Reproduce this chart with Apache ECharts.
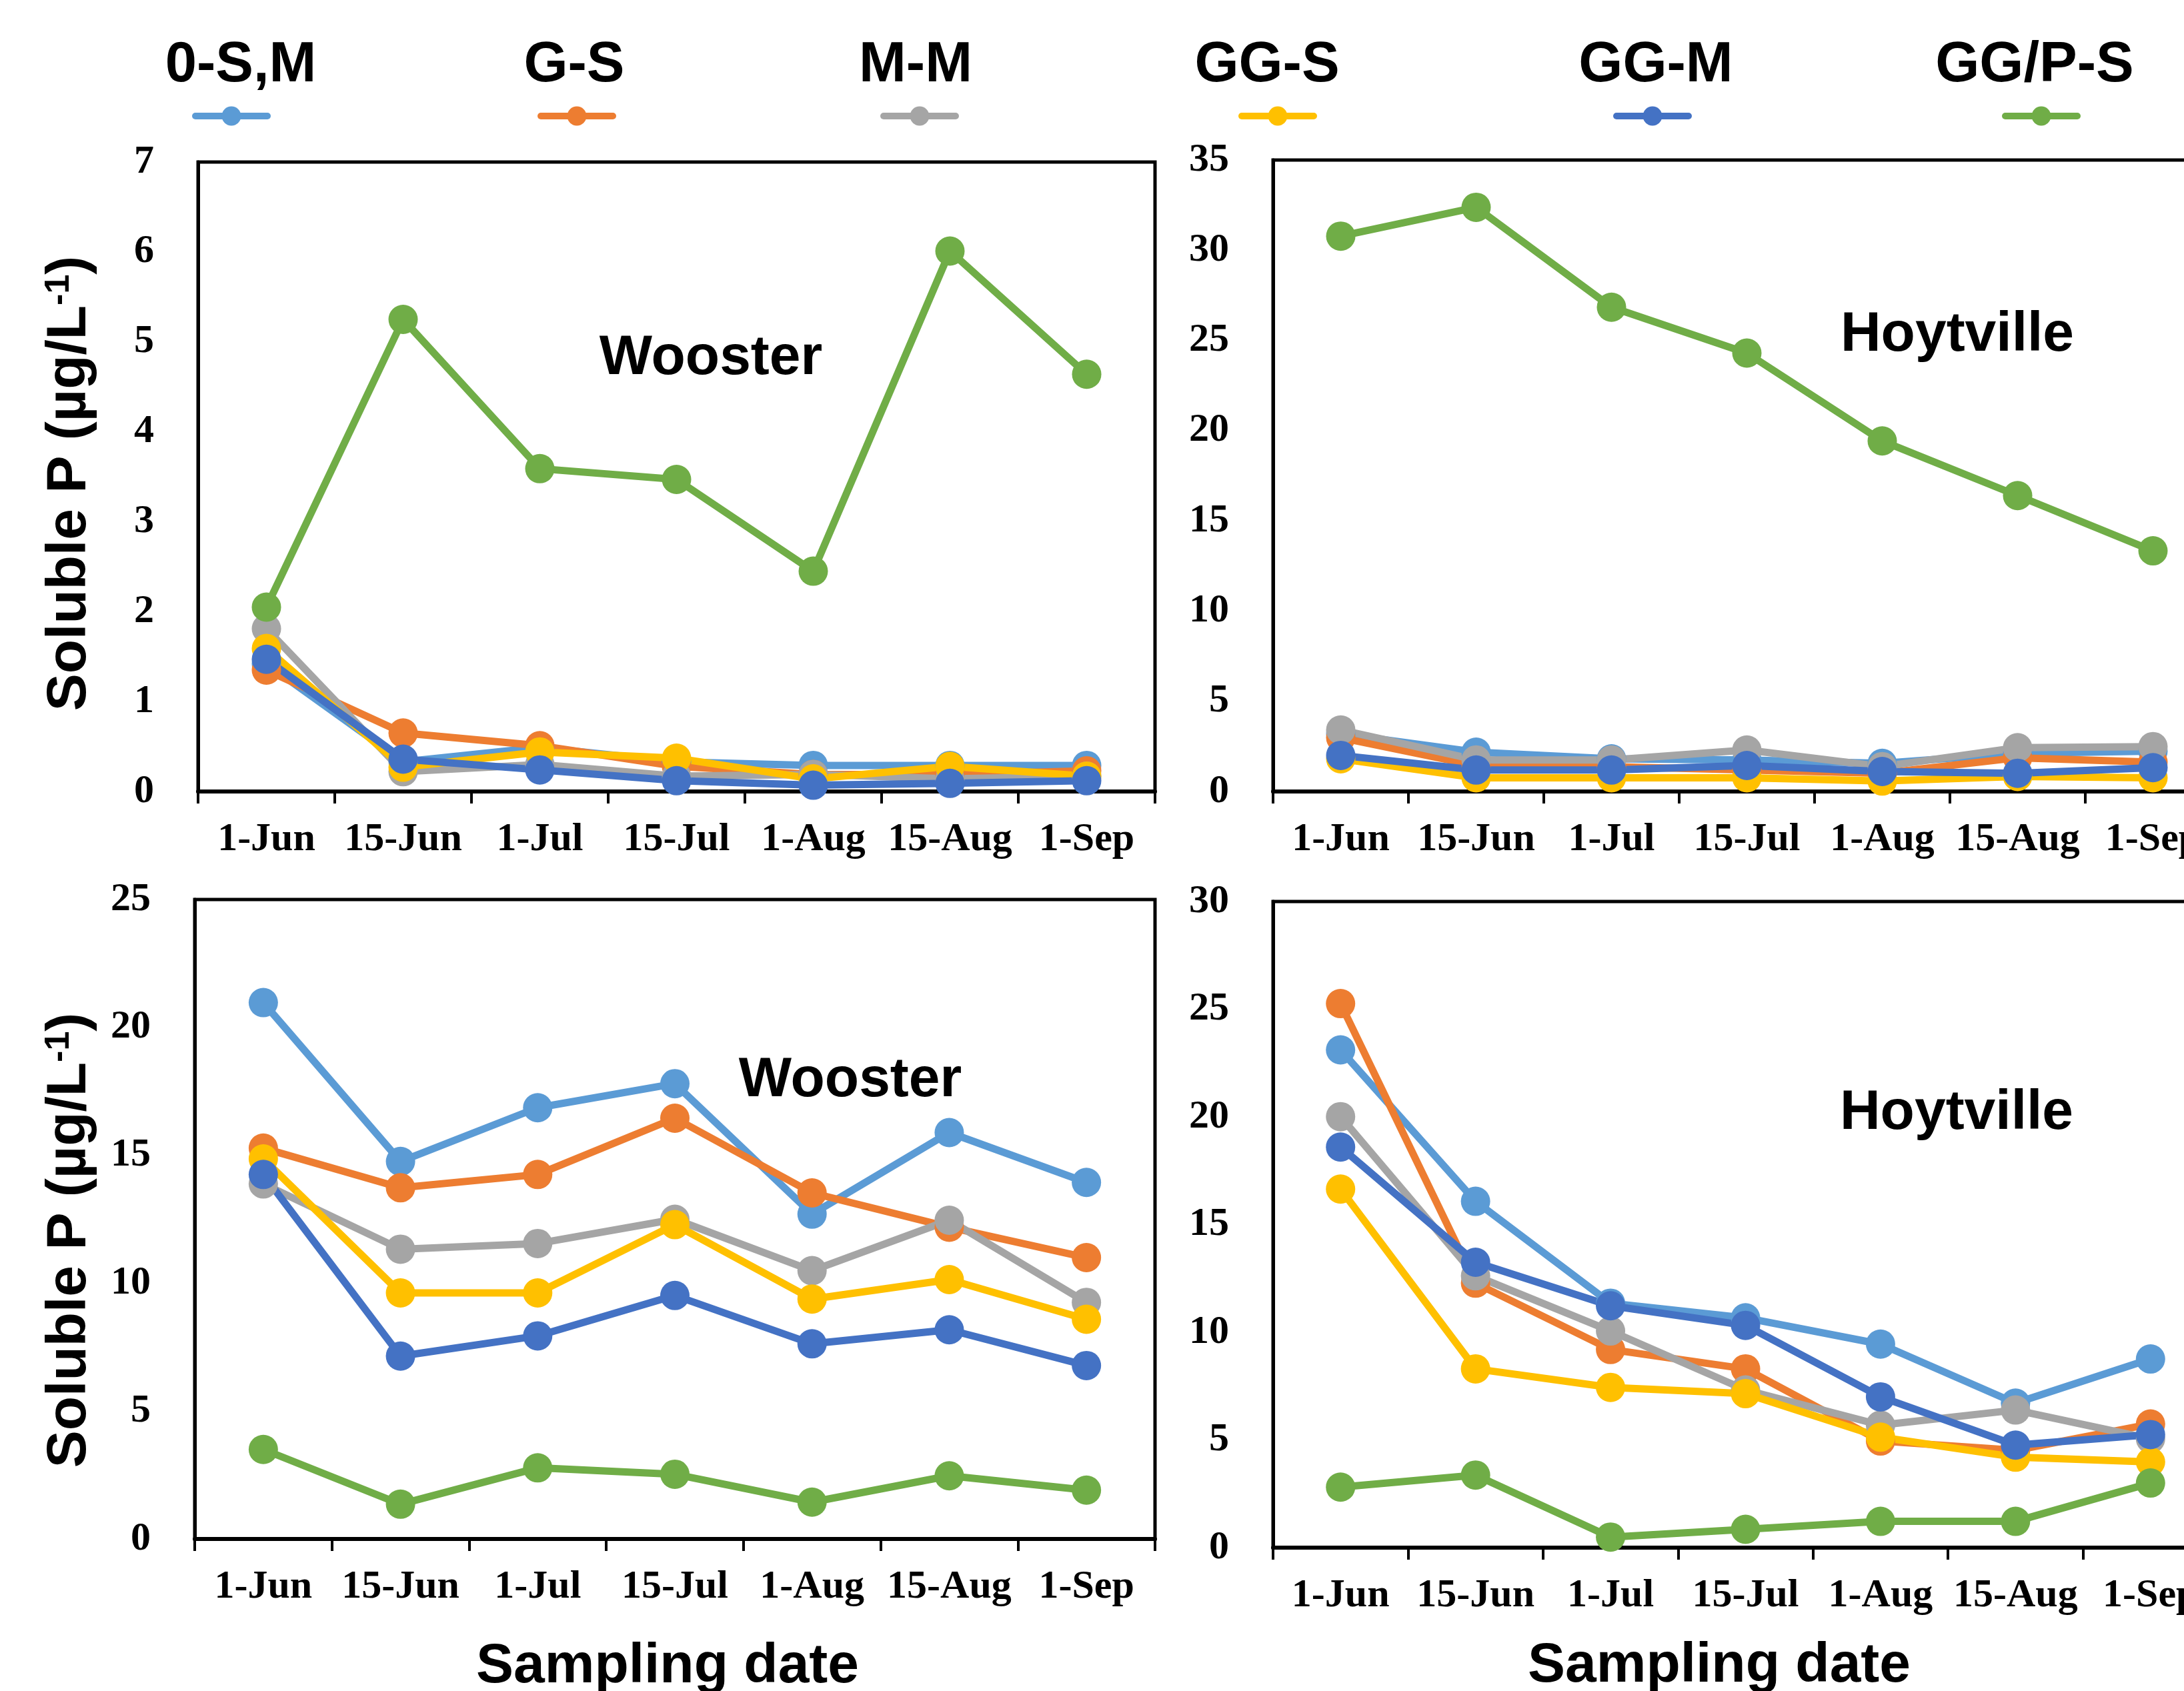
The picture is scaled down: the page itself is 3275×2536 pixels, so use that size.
<!DOCTYPE html>
<html>
<head>
<meta charset="utf-8">
<script src="https://cdn.jsdelivr.net/npm/echarts@6/dist/echarts.min.js"></script>
<style>html,body{margin:0;padding:0;background:#fff}#c{width:3275px;height:2536px}</style>
</head>
<body>
<div id="c"></div>
<script>
// ---- data ----
const dates = ['1-Jun', '15-Jun', '1-Jul', '15-Jul', '1-Aug', '15-Aug', '1-Sep'];
const seriesNames = ['0-S,M', 'G-S', 'M-M', 'GG-S', 'GG-M', 'GG/P-S'];
const siteNames = ['Wooster', 'Hoytville', 'Wooster', 'Hoytville'];
const yTitle = 'Soluble P (µg/L';
const yTitleSup = '-1';
const xTitle = 'Sampling date';

// top-left: Wooster
const wooA_0SM  = [1.42, 0.33, 0.49, 0.33, 0.29, 0.29, 0.29];
const wooA_GS   = [1.35, 0.65, 0.51, 0.28, 0.19, 0.19, 0.23];
const wooA_MM   = [1.81, 0.22, 0.30, 0.17, 0.19, 0.14, 0.17];
const wooA_GGS  = [1.59, 0.27, 0.44, 0.37, 0.14, 0.28, 0.17];
const wooA_GGM  = [1.47, 0.36, 0.24, 0.12, 0.07, 0.09, 0.12];
const wooA_GGPS = [2.05, 5.25, 3.59, 3.47, 2.45, 6.01, 4.64];

// top-right: Hoytville
const hoyA_0SM  = [3.20, 2.18, 1.81, 1.75, 1.56, 2.12, 2.24];
const hoyA_GS   = [2.98, 1.44, 1.38, 1.19, 1.01, 1.87, 1.63];
const hoyA_MM   = [3.41, 1.75, 1.75, 2.30, 1.38, 2.43, 2.49];
const hoyA_GGS  = [1.81, 0.76, 0.76, 0.76, 0.58, 0.83, 0.76];
const hoyA_GGM  = [2.00, 1.19, 1.19, 1.44, 1.11, 1.01, 1.32];
const hoyA_GGPS = [30.78, 32.38, 26.84, 24.30, 19.43, 16.40, 13.34];

// bottom-left: Wooster
const wooB_0SM  = [20.97, 14.76, 16.86, 17.80, 12.70, 15.89, 13.94];
const wooB_GS   = [15.28, 13.73, 14.25, 16.45, 13.53, 12.19, 11.00];
const wooB_MM   = [13.88, 11.33, 11.55, 12.50, 10.49, 12.46, 9.25];
const wooB_GGS  = [14.86, 9.62, 9.62, 12.29, 9.38, 10.14, 8.59];
const wooB_GGM  = [14.25, 7.15, 7.94, 9.52, 7.63, 8.18, 6.78];
const wooB_GGPS = [3.50, 1.36, 2.78, 2.53, 1.44, 2.47, 1.91];

// bottom-right: Hoytville
const hoyB_0SM  = [23.11, 16.08, 11.35, 10.67, 9.45, 6.71, 8.76];
const hoyB_GS   = [25.26, 12.28, 9.20, 8.30, 4.95, 4.52, 5.74];
const hoyB_MM   = [20.01, 12.62, 10.06, 7.32, 5.69, 6.39, 5.05];
const hoyB_GGS  = [16.65, 8.30, 7.44, 7.15, 5.13, 4.20, 3.98];
const hoyB_GGM  = [18.60, 13.25, 11.23, 10.32, 7.00, 4.76, 5.25];
const hoyB_GGPS = [2.81, 3.37, 0.49, 0.85, 1.22, 1.22, 3.00];

const yMax = [7, 35, 25, 30];
const yStep = [1, 5, 5, 5];

// ---- styling / layout ----
const panelData = [
  [wooA_0SM, wooA_GS, wooA_MM, wooA_GGS, wooA_GGM, wooA_GGPS],
  [hoyA_0SM, hoyA_GS, hoyA_MM, hoyA_GGS, hoyA_GGM, hoyA_GGPS],
  [wooB_0SM, wooB_GS, wooB_MM, wooB_GGS, wooB_GGM, wooB_GGPS],
  [hoyB_0SM, hoyB_GS, hoyB_MM, hoyB_GGS, hoyB_GGM, hoyB_GGPS]
];
const colors = ['#5B9BD5', '#ED7D31', '#A5A5A5', '#FFC000', '#4472C4', '#70AD47'];
const grids = [
  {left: 297, top: 243, width: 1435, height: 944},
  {left: 1909, top: 240, width: 1421, height: 947},
  {left: 292, top: 1349, width: 1440, height: 959},
  {left: 1909, top: 1352, width: 1417, height: 969}
];
const SANS = "'Liberation Sans', Arial, sans-serif";
const SERIF = "'Liberation Serif', 'Times New Roman', serif";
const tickFont = {fontFamily: SERIF, fontWeight: 'bold', fontSize: 60, color: '#000'};

const legendIconX = [342, 860, 1374, 1911, 2473, 3056];
const legendTextX = [361, 861, 1373, 1900, 2483, 3051];
const siteTextPos = [[1066, 538], [2935, 503], [1275, 1621], [2934, 1670]];
const xTitlePos = [[1001, 2500], [2578, 2499]];
const yTitlePos = [[105, 725], [105, 1860]];

const series = [];
panelData.forEach((arrs, p) => {
  arrs.forEach((vals, s) => {
    series.push({
      type: 'line', name: seriesNames[s],
      xAxisIndex: p, yAxisIndex: p,
      data: vals,
      symbol: 'circle', symbolSize: 44,
      lineStyle: {width: 11, color: colors[s]},
      itemStyle: {color: colors[s]},
      emphasis: {disabled: true}
    });
  });
});

const graphics = [];
seriesNames.forEach((n, i) => {
  graphics.push({type: 'text', x: legendTextX[i], y: 99,
    style: {text: n, fontFamily: SANS, fontWeight: 'bold', fontSize: 85, fill: '#000', align: 'center', verticalAlign: 'middle'}});
});
siteNames.forEach((n, i) => {
  graphics.push({type: 'text', x: siteTextPos[i][0], y: siteTextPos[i][1],
    style: {text: n, fontFamily: SANS, fontWeight: 'bold', fontSize: 84, fill: '#000', align: 'center', verticalAlign: 'middle'}});
});
xTitlePos.forEach(pos => {
  graphics.push({type: 'text', x: pos[0], y: pos[1],
    style: {text: xTitle, fontFamily: SANS, fontWeight: 'bold', fontSize: 84, fill: '#000', align: 'center', verticalAlign: 'middle'}});
});
yTitlePos.forEach(pos => {
  graphics.push({type: 'text', x: pos[0], y: pos[1], rotation: Math.PI / 2,
    style: {
      text: '{a|' + yTitle + '}{b|' + yTitleSup + '}{a|)}',
      align: 'center', verticalAlign: 'middle',
      rich: {
        a: {fontFamily: SANS, fontWeight: 'bold', fontSize: 84, fill: '#000'},
        b: {fontFamily: SANS, fontWeight: 'bold', fontSize: 52, fill: '#000', verticalAlign: 'top'}
      }
    }});
});

const option = {
  animation: false,
  backgroundColor: '#fff',
  legend: seriesNames.map((n, i) => ({
    data: [n], left: legendIconX[i] - 54, top: 174 - 18,
    itemWidth: 108, itemHeight: 36, padding: 0, itemGap: 0,
    selectedMode: false, formatter: () => '',
    lineStyle: {width: 10, cap: 'round'},
    textStyle: {fontSize: 1, padding: 0}
  })),
  grid: grids.map(g => Object.assign({show: true, borderColor: '#000', borderWidth: 5, containLabel: false, outerBoundsMode: 'none'}, g)),
  xAxis: grids.map((g, p) => ({
    type: 'category', gridIndex: p, data: dates, boundaryGap: true,
    axisLine: {lineStyle: {color: '#000', width: 6}},
    axisTick: {show: true, length: 18, interval: 0, lineStyle: {color: '#000', width: 4}},
    axisLabel: Object.assign({interval: 0, margin: 42, hideOverlap: false}, tickFont),
    splitLine: {show: false}
  })),
  yAxis: grids.map((g, p) => ({
    type: 'value', gridIndex: p, min: 0, max: yMax[p], interval: yStep[p],
    axisLine: {show: true, lineStyle: {color: '#000', width: 5}},
    axisTick: {show: false},
    axisLabel: Object.assign({margin: 66}, tickFont),
    splitLine: {show: false}
  })),
  graphic: graphics,
  series: series
};

const chart = echarts.init(document.getElementById('c'), null, {renderer: 'canvas'});
chart.setOption(option);
</script>
</body>
</html>
